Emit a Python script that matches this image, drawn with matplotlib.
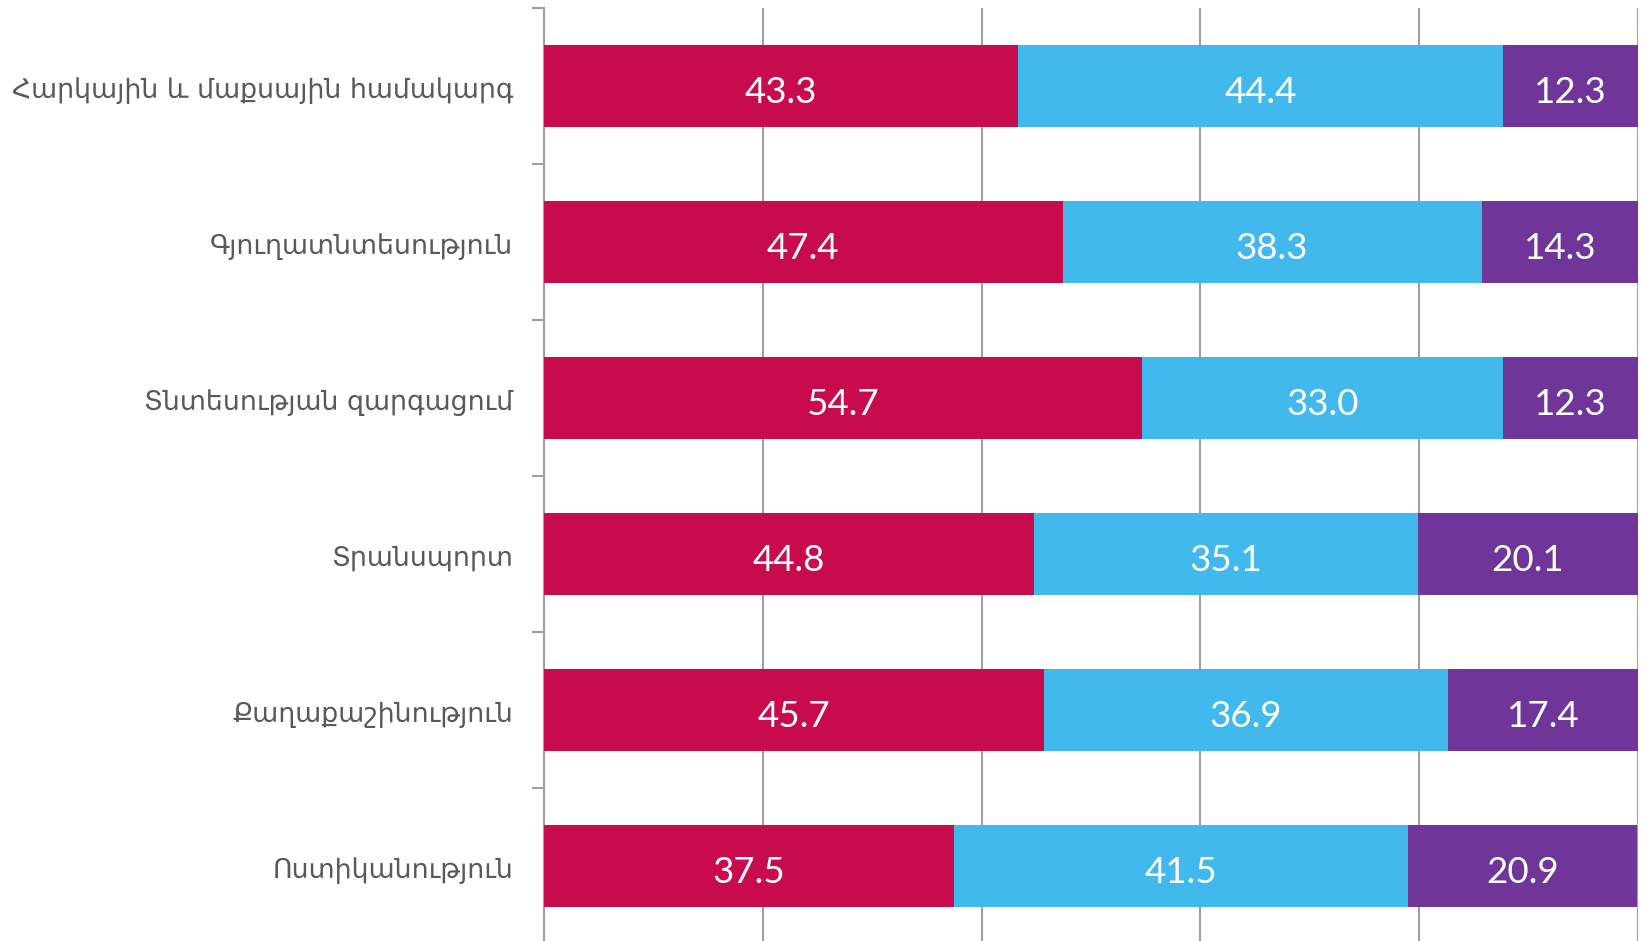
#!/usr/bin/env python3
"""Stacked horizontal bar chart of sector shares (percent)."""

import matplotlib.pyplot as plt
import numpy as np

categories = [
    "Հարկային և մաքսային համակարգ",
    "Գյուղատնտեսություն",
    "Տնտեսության զարգացում",
    "Տրանսպորտ",
    "Քաղաքաշինություն",
    "Ոստիկանություն",
]
first_share = [43.3, 47.4, 54.7, 44.8, 45.7, 37.5]
second_share = [44.4, 38.3, 33.0, 35.1, 36.9, 41.5]
third_share = [12.3, 14.3, 12.3, 20.1, 17.4, 20.9]

colors = ["#C80B4C", "#42B9EC", "#6F3599"]

fig = plt.figure(figsize=(16.41, 9.41), dpi=100)
ax = fig.add_axes([544 / 1641, -3 / 941, (1638 - 544) / 1641, 936 / 941])

y = np.arange(len(categories))
left = np.zeros(len(categories))
for values, color in zip([first_share, second_share, third_share], colors):
    values = np.asarray(values)
    ax.barh(y, values, left=left, height=0.52, color=color, zorder=3)
    for yi, (l, v) in enumerate(zip(left, values)):
        ax.text(l + v / 2, yi + 0.02, f"{v:.1f}", ha="center", va="center_baseline",
                color="white", fontsize=26.5, family="Lato", zorder=4)
    left += values

ax.set_xlim(0, 100)
ax.set_ylim(len(categories) - 0.5, -0.5)

ax.set_xticks(np.arange(0, 101, 20))
ax.xaxis.grid(True, color="#A0A0A0", linewidth=1.5, zorder=0)
ax.tick_params(axis="x", length=0, labelbottom=False)

# category boundaries carry the small ticks on the left spine
ax.set_yticks(np.arange(-0.5, len(categories), 1.0))
ax.set_yticklabels([])
ax.tick_params(axis="y", direction="out", length=9, width=1.5, color="#A0A0A0")
for yi, name in enumerate(categories):
    ax.text(-0.028, yi + 0.01, name, transform=ax.get_yaxis_transform(),
            ha="right", va="center_baseline", fontsize=19.3, color="#595959",
            family="DejaVu Sans")

for side in ["top", "right", "bottom"]:
    ax.spines[side].set_visible(False)
ax.spines["left"].set_color("#A0A0A0")
ax.spines["left"].set_linewidth(1.5)

fig.savefig("out.png", dpi=100)
